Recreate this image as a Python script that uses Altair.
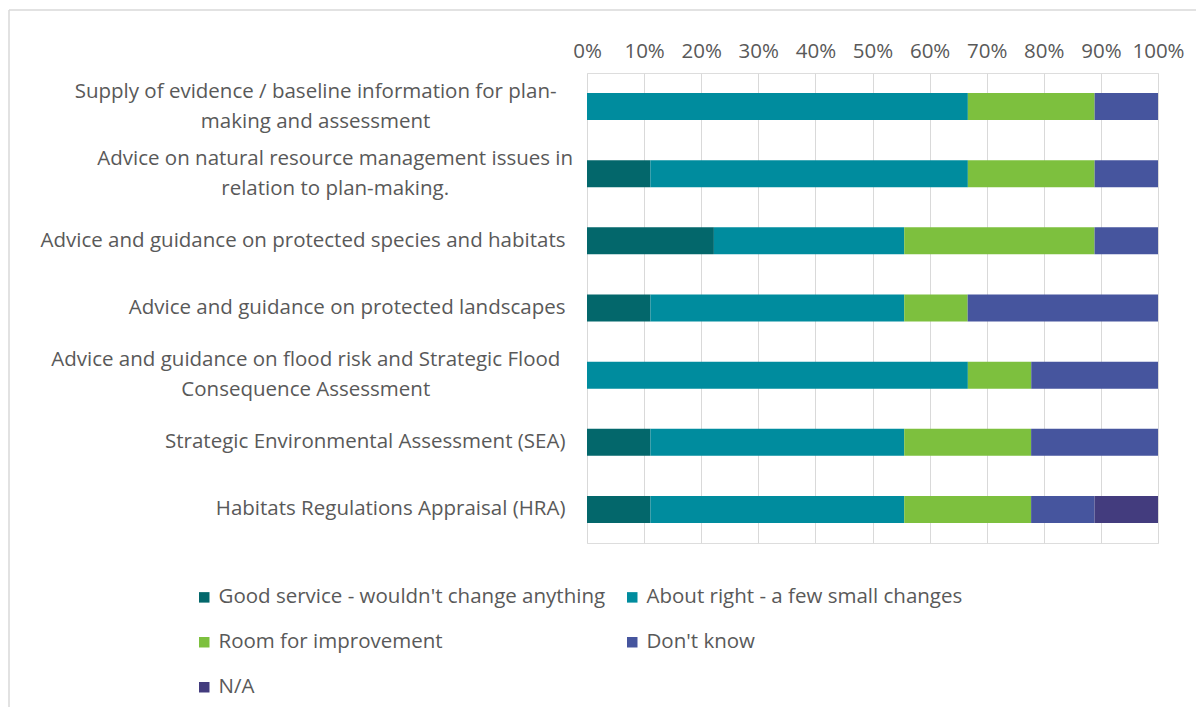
import altair as alt
import pandas as pd

categories = [
    "Supply of evidence / baseline information for plan-\nmaking and assessment",
    "Advice on natural resource management issues in\nrelation to plan-making.",
    "Advice and guidance on protected species and habitats",
    "Advice and guidance on protected landscapes",
    "Advice and guidance on flood risk and Strategic Flood\nConsequence Assessment",
    "Strategic Environmental Assessment (SEA)",
    "Habitats Regulations Appraisal (HRA)",
]
series = [
    "Good service - wouldn't change anything",
    "About right - a few small changes",
    "Room for improvement",
    "Don't know",
    "N/A",
]
good = [0.0, 11.1, 22.2, 11.1, 0.0, 11.1, 11.1]
about = [66.7, 55.6, 33.3, 44.4, 66.7, 44.4, 44.4]
room = [22.2, 22.2, 33.3, 11.1, 11.1, 22.2, 22.2]
dontknow = [11.1, 11.1, 11.1, 33.3, 22.2, 22.2, 11.1]
na = [0.0, 0.0, 0.0, 0.0, 0.0, 0.0, 11.1]
colors = ["#03676B", "#008C9E", "#7DC03E", "#46559E", "#433C7E"]

rows = []
for i, c in enumerate(categories):
    for j, (s, vals) in enumerate(zip(series, [good, about, room, dontknow, na])):
        rows.append({"category": c, "series": s, "order": j, "value": vals[i] / 100.0})
df = pd.DataFrame(rows)

FONT = "Open Sans"
TXT = "#595959"
FS = 20.5
MULTI = "indexof(datum.label, '\\n') >= 0"

bars = alt.Chart(df).mark_bar(size=27).encode(
    y=alt.Y("category:N", sort=categories, title=None,
            axis=alt.Axis(labelExpr="split(datum.label, '\\n')", labelFont=FONT,
                          labelFontSize=FS, labelColor=TXT, labelLineHeight=30,
                          ticks=False, domain=False, labelLimit=0,
                          labelAlign={"condition": {"test": MULTI, "value": "center"},
                                      "value": "right"},
                          labelPadding={"condition": {"test": MULTI,
                                                      "expr": "22 + 4.9 * length(split(datum.label, '\\n')[0])"},
                                        "value": 22},
                          labelOffset={"condition": {"test": MULTI, "value": -15},
                                       "value": 0})),
    x=alt.X("sum(value):Q", stack="normalize", title=None,
            scale=alt.Scale(domain=[0, 1]),
            axis=alt.Axis(orient="top", format="%", values=[i / 10 for i in range(11)],
                          labelFont=FONT, labelFontSize=FS, labelColor=TXT,
                          ticks=False, domain=False, labelPadding=12,
                          grid=True, gridColor="#D9D9D9", gridWidth=1,
                          labelOverlap=False, labelFlush=False)),
    color=alt.Color("series:N", sort=series,
                    scale=alt.Scale(domain=series, range=colors),
                    legend=alt.Legend(title=None, orient="none", legendX=-393, legendY=514,
                                      columns=2, direction="horizontal",
                                      symbolType="square", symbolSize=110,
                                      symbolStrokeWidth=0, labelFont=FONT, labelFontSize=FS,
                                      labelColor=TXT, rowPadding=24, columnPadding=16,
                                      symbolOffset=0, labelOffset=4, labelLimit=0)),
    order=alt.Order("order:Q"),
)

one = pd.DataFrame({"k": [0]})
frame_top = alt.Chart(one).mark_rule(color="#D9D9D9", strokeWidth=1.5).encode(
    x=alt.value(-578), x2=alt.value(700), y=alt.value(-63))
frame_left = alt.Chart(one).mark_rule(color="#D9D9D9", strokeWidth=1.5).encode(
    x=alt.value(-578), y=alt.value(-63), y2=alt.value(700))

chart = alt.layer(frame_top, frame_left, bars).properties(
    width=571, height=470,
    autosize=alt.AutoSizeParams(type="none"),
    padding={"left": 579, "top": 65, "right": 38, "bottom": 164},
).configure_view(stroke=None).configure(background="white")

chart.save("out.html", embed_options={"renderer": "svg", "actions": False})
